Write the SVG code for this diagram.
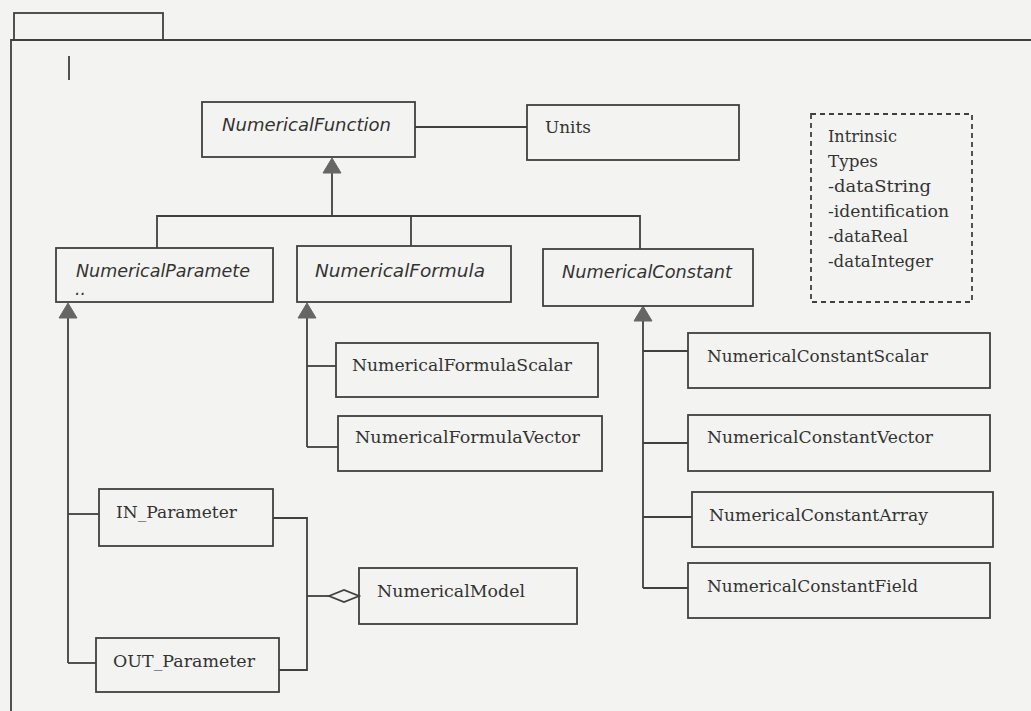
<svg xmlns="http://www.w3.org/2000/svg" width="1031" height="711" viewBox="0 0 1031 711">
<style>
.bg{fill:#f3f3f1}
.box{fill:none;stroke:#404040;stroke-width:1.8}
.ln{fill:none;stroke:#404040;stroke-width:1.8}
.note{fill:none;stroke:#404040;stroke-width:1.8;stroke-dasharray:5,4}
.t{font-family:"DejaVu Serif","Liberation Serif",serif;font-size:17px;fill:#333333}
.ti{font-family:"DejaVu Sans","Liberation Sans",sans-serif;font-style:italic;font-size:17px;fill:#333333}
.tri{fill:#666666;stroke:#666666;stroke-width:1}
</style>
<rect class="bg" x="0" y="0" width="1031" height="711"/>
<g id="package">
<rect class="box" x="14" y="13" width="149" height="27"/>
<polyline class="ln" points="11,711 11,40 1031,40"/>
<line class="ln" x1="69" y1="56" x2="69" y2="80" stroke-width="2.2"/>
</g>
<g id="connectors">
<line class="ln" x1="415" y1="127" x2="527" y2="127"/>
<line class="ln" x1="332" y1="172" x2="332" y2="216"/>
<polyline class="ln" points="157,248 157,216 640,216 640,249"/>
<line class="ln" x1="411" y1="216" x2="411" y2="246"/>
<polygon class="tri" points="332,158 323,173 341,173"/>
<line class="ln" x1="68" y1="317" x2="68" y2="663"/>
<line class="ln" x1="68" y1="514" x2="99" y2="514"/>
<line class="ln" x1="68" y1="663" x2="96" y2="663"/>
<polygon class="tri" points="68,303 59,318 77,318"/>
<line class="ln" x1="307" y1="317" x2="307" y2="447"/>
<line class="ln" x1="307" y1="366" x2="336" y2="366"/>
<line class="ln" x1="307" y1="447" x2="338" y2="447"/>
<polygon class="tri" points="307,303 298,318 316,318"/>
<line class="ln" x1="643" y1="320" x2="643" y2="588"/>
<line class="ln" x1="643" y1="351" x2="688" y2="351"/>
<line class="ln" x1="643" y1="443" x2="688" y2="443"/>
<line class="ln" x1="643" y1="517" x2="692" y2="517"/>
<line class="ln" x1="643" y1="588" x2="688" y2="588"/>
<polygon class="tri" points="643,306 634,321 652,321"/>
<polyline class="ln" points="273,518 307,518 307,670 279,670"/>
<line class="ln" x1="307" y1="596" x2="329" y2="596"/>
<polygon class="ln" points="329,596 344,590 359,596 344,602" fill="#f3f3f1"/>
</g>
<g id="NumericalFunction">
<rect class="box" x="202" y="102" width="213" height="55"/>
<text class="ti" x="222" y="131" textLength="169" lengthAdjust="spacingAndGlyphs">NumericalFunction</text>
</g>
<g id="Units">
<rect class="box" x="527" y="105" width="212" height="55"/>
<text class="t" x="545" y="133" textLength="46" lengthAdjust="spacingAndGlyphs">Units</text>
</g>
<g id="IntrinsicTypes">
<rect class="note" x="811" y="114" width="161" height="188"/>
<text class="t" x="828" y="142" textLength="69" lengthAdjust="spacingAndGlyphs">Intrinsic</text>
<text class="t" x="828" y="167" textLength="50" lengthAdjust="spacingAndGlyphs">Types</text>
<text class="t" x="828" y="192" textLength="103" lengthAdjust="spacingAndGlyphs">-dataString</text>
<text class="t" x="828" y="217" textLength="121" lengthAdjust="spacingAndGlyphs">-identification</text>
<text class="t" x="828" y="242" textLength="80" lengthAdjust="spacingAndGlyphs">-dataReal</text>
<text class="t" x="828" y="267" textLength="105" lengthAdjust="spacingAndGlyphs">-dataInteger</text>
</g>
<g id="NumericalParameter">
<rect class="box" x="56" y="248" width="217" height="54"/>
<text class="ti" x="76" y="277" textLength="174" lengthAdjust="spacingAndGlyphs">NumericalParamete</text>
<text class="ti" x="75" y="295" font-size="11">..</text>
</g>
<g id="NumericalFormula">
<rect class="box" x="297" y="246" width="214" height="56"/>
<text class="ti" x="315" y="277" textLength="170" lengthAdjust="spacingAndGlyphs">NumericalFormula</text>
</g>
<g id="NumericalConstant">
<rect class="box" x="543" y="249" width="210" height="57"/>
<text class="ti" x="562" y="278" textLength="170" lengthAdjust="spacingAndGlyphs">NumericalConstant</text>
</g>
<g id="NumericalFormulaScalar">
<rect class="box" x="336" y="343" width="262" height="54"/>
<text class="t" x="352" y="371" textLength="220" lengthAdjust="spacingAndGlyphs">NumericalFormulaScalar</text>
</g>
<g id="NumericalFormulaVector">
<rect class="box" x="338" y="416" width="264" height="55"/>
<text class="t" x="355" y="443" textLength="225" lengthAdjust="spacingAndGlyphs">NumericalFormulaVector</text>
</g>
<g id="NumericalConstantScalar">
<rect class="box" x="688" y="333" width="302" height="55"/>
<text class="t" x="707" y="362" textLength="221" lengthAdjust="spacingAndGlyphs">NumericalConstantScalar</text>
</g>
<g id="NumericalConstantVector">
<rect class="box" x="688" y="415" width="302" height="56"/>
<text class="t" x="707" y="443" textLength="226" lengthAdjust="spacingAndGlyphs">NumericalConstantVector</text>
</g>
<g id="NumericalConstantArray">
<rect class="box" x="692" y="492" width="301" height="55"/>
<text class="t" x="709" y="521" textLength="219" lengthAdjust="spacingAndGlyphs">NumericalConstantArray</text>
</g>
<g id="NumericalConstantField">
<rect class="box" x="688" y="563" width="302" height="55"/>
<text class="t" x="707" y="592" textLength="211" lengthAdjust="spacingAndGlyphs">NumericalConstantField</text>
</g>
<g id="IN_Parameter">
<rect class="box" x="99" y="489" width="174" height="57"/>
<text class="t" x="116" y="518" textLength="121" lengthAdjust="spacingAndGlyphs">IN_Parameter</text>
</g>
<g id="OUT_Parameter">
<rect class="box" x="96" y="638" width="183" height="54"/>
<text class="t" x="113" y="667" textLength="142" lengthAdjust="spacingAndGlyphs">OUT_Parameter</text>
</g>
<g id="NumericalModel">
<rect class="box" x="359" y="568" width="218" height="56"/>
<text class="t" x="377" y="597" textLength="148" lengthAdjust="spacingAndGlyphs">NumericalModel</text>
</g>
</svg>
